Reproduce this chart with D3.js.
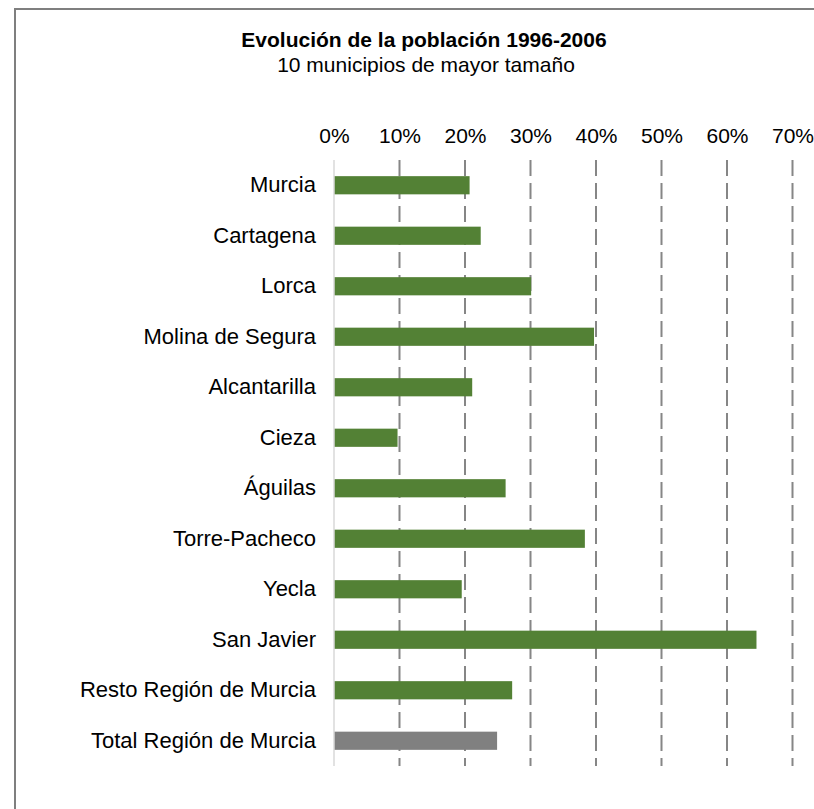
<!DOCTYPE html>
<html>
<head>
<meta charset="utf-8">
<script src="https://cdn.jsdelivr.net/npm/d3@7"></script>
<style>
  body { margin: 0; background: #fff; }
  text { font-family: "Liberation Sans", Arial, sans-serif; fill: #000; }
</style>
</head>
<body>
<div id="chart"></div>
<script>
// data
const municipios = ["Murcia", "Cartagena", "Lorca", "Molina de Segura", "Alcantarilla", "Cieza",
  "Águilas", "Torre-Pacheco", "Yecla", "San Javier", "Resto Región de Murcia", "Total Región de Murcia"];
const crecimiento = [0.207, 0.224, 0.301, 0.397, 0.211, 0.097, 0.262, 0.383, 0.195, 0.645, 0.272, 0.249];
const tickValues = [0, 0.1, 0.2, 0.3, 0.4, 0.5, 0.6, 0.7];

const data = municipios.map((m, i) => ({name: m, value: crecimiento[i]}));

const W = 814, H = 809;
const margin = {top: 160, right: 21.5, bottom: 43, left: 334};

const svg = d3.select("#chart")
  .append("svg")
  .attr("width", W)
  .attr("height", H);

// outer frame (runs past the right/bottom edge)
svg.append("rect")
  .attr("x", 15)
  .attr("y", 9)
  .attr("width", W + 20)
  .attr("height", H + 20)
  .attr("fill", "none")
  .attr("stroke", "#7f7f7f")
  .attr("stroke-width", 2);

const x = d3.scaleLinear()
  .domain([0, 0.7])
  .range([margin.left, W - margin.right]);

const y = d3.scaleBand()
  .domain(municipios)
  .range([margin.top, H - margin.bottom])
  .paddingInner(0.64)
  .paddingOuter(0.32);

// dashed gridlines
svg.append("g")
  .selectAll("line")
  .data(tickValues.slice(1))
  .join("line")
  .attr("x1", d => x(d))
  .attr("x2", d => x(d))
  .attr("y1", margin.top)
  .attr("y2", H - margin.bottom)
  .attr("stroke", "#868686")
  .attr("stroke-width", 2)
  .attr("stroke-dasharray", "16,7");

// bars
svg.append("g")
  .selectAll("rect")
  .data(data)
  .join("rect")
  .attr("x", x(0))
  .attr("y", d => y(d.name))
  .attr("width", d => x(d.value) - x(0))
  .attr("height", y.bandwidth())
  .attr("fill", (d, i) => i === data.length - 1 ? "#808080" : "#538135");

// vertical axis line at 0
svg.append("line")
  .attr("x1", x(0))
  .attr("x2", x(0))
  .attr("y1", margin.top)
  .attr("y2", H - margin.bottom)
  .attr("stroke", "#d9d9d9")
  .attr("stroke-width", 1.5);

// top axis labels
const xAxis = d3.axisTop(x)
  .tickValues(tickValues)
  .tickSize(0)
  .tickPadding(0)
  .tickFormat(d3.format(".0%"));

svg.append("g")
  .attr("transform", "translate(0,143)")
  .call(xAxis)
  .call(g => g.select(".domain").remove())
  .selectAll("text")
  .attr("font-family", "Liberation Sans, Arial, sans-serif")
  .attr("font-size", "21px")
  .attr("fill", "#000")
  .attr("dy", 0);

// category labels
const yAxis = d3.axisLeft(y).tickSize(0).tickPadding(0);
svg.append("g")
  .attr("transform", "translate(316,0)")
  .call(yAxis)
  .call(g => g.select(".domain").remove())
  .selectAll("text")
  .attr("font-family", "Liberation Sans, Arial, sans-serif")
  .attr("font-size", "22px")
  .attr("fill", "#000");

// titles
svg.append("text")
  .attr("x", 424)
  .attr("y", 47)
  .attr("text-anchor", "middle")
  .attr("font-size", "21px")
  .attr("font-weight", "bold")
  .text("Evolución de la población 1996-2006");

svg.append("text")
  .attr("x", 426)
  .attr("y", 72)
  .attr("text-anchor", "middle")
  .attr("font-size", "21px")
  .text("10 municipios de mayor tamaño");
</script>
</body>
</html>
